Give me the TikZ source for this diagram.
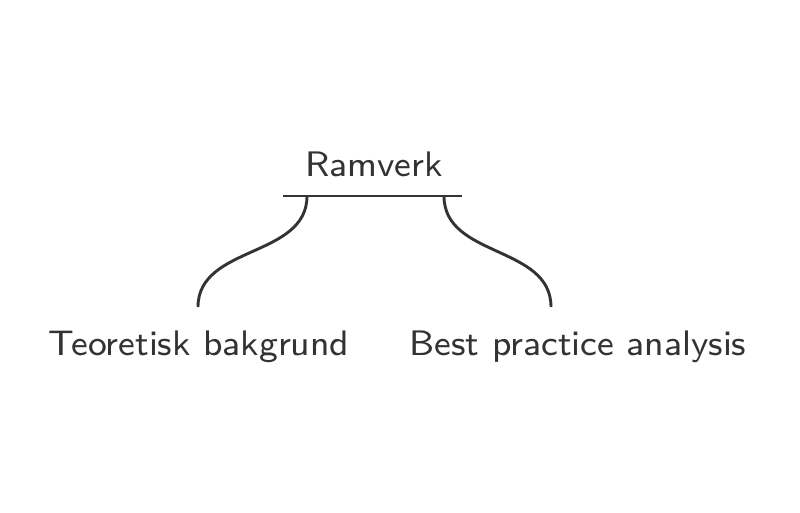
\documentclass[tikz,border=0pt]{standalone}
\definecolor{ink}{HTML}{333333}
\begin{document}
\begin{tikzpicture}[x=1pt,y=-1pt,
  lbl/.style={text=ink,font=\sffamily\fontsize{8}{10}\selectfont,inner sep=0pt,anchor=base,scale=4.43},
  branch/.style={draw=ink,line width=2.9pt}]
\useasboundingbox (0,0) rectangle (800,513);
\node[lbl] (root) at (374,177) {Ramverk};
\node[lbl] (t) at (199,355) {Teoretisk bakgrund};
\node[lbl] (b) at (578,355) {Best practice analysis};
\coordinate (barL) at (283,196);
\coordinate (barR) at (462,196);
\coordinate (sL) at (307,196);
\coordinate (sR) at (444,196);
\coordinate (eL) at (198,307);
\coordinate (eR) at (551,307);
\draw[branch] (barL) -- (barR);
\draw[branch] (sL) .. controls (307,258) and (198,245) .. (eL);
\draw[branch] (sR) .. controls (444,258) and (551,245) .. (eR);
\end{tikzpicture}
\end{document}
